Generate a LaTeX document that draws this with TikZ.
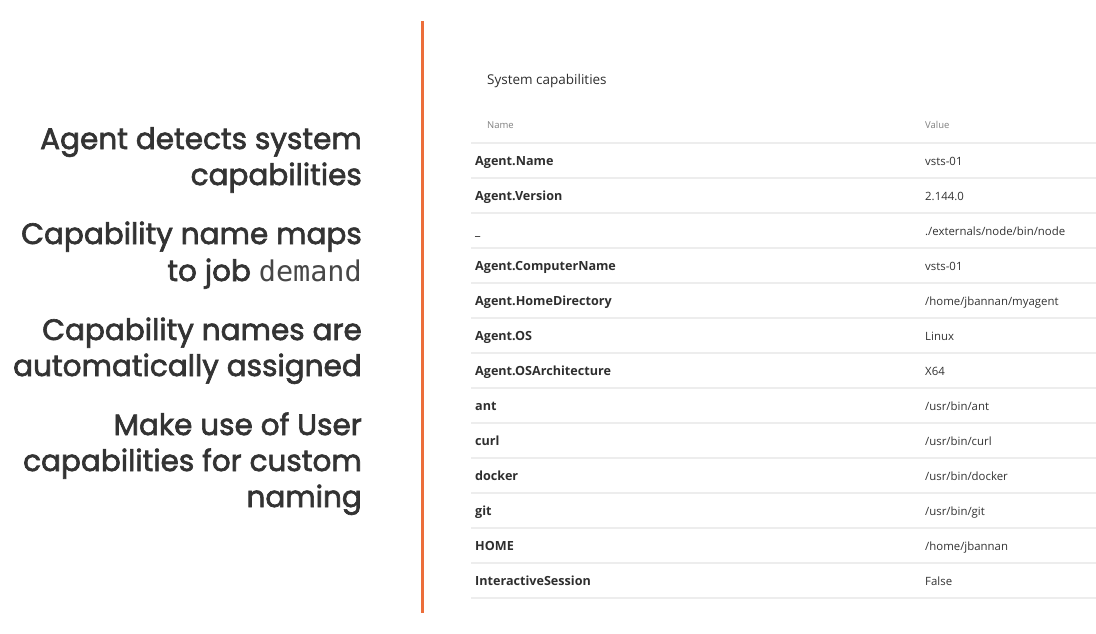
\documentclass[tikz,border=0pt]{standalone}
\usepackage{fontspec}
\newfontfamily\headfont[FakeBold=2.2]{Poppins}
\newfontfamily\monofont{DejaVu Sans Mono}
\newfontfamily\tabfont{Open Sans}
\begin{document}
\begin{tikzpicture}[x=1pt,y=-1pt,
  bullet/.style={anchor=base east,inner sep=0pt,text=black!80,font=\headfont\fontsize{29.5}{36}\selectfont},
  namecell/.style={anchor=base west,inner sep=0pt,text=black!82,font=\tabfont\bfseries\fontsize{12.6}{14}\selectfont},
  valcell/.style={anchor=base west,inner sep=0pt,text=black!80,font=\tabfont\fontsize{11.4}{14}\selectfont},
  headcell/.style={anchor=base west,inner sep=0pt,text=black!50,font=\tabfont\fontsize{9.5}{12}\selectfont},
  rowline/.style={draw=black!7,line width=1.2pt}]
\useasboundingbox[fill=white] (0,0) rectangle (1096,633);
% left bullets
\node[bullet] (l1) at (362,149) {Agent detects system};
\node[bullet] (l2) at (362,185) {capabilities};
\node[bullet] (l3) at (362,244) {Capability name maps};
\node[bullet] (l4) at (362,281) {to job {\monofont\fontsize{28.5}{36}\selectfont\color{black!72}demand}};
\node[bullet] (l5) at (362,340) {Capability names are};
\node[bullet] (l6) at (362,376) {automatically assigned};
\node[bullet] (l7) at (362,435) {Make use of User};
\node[bullet] (l8) at (362,471) {capabilities for custom};
\node[bullet] (l9) at (362,507) {naming};
% orange divider
\coordinate (dtop) at (422,21);
\coordinate (dbot) at (422,613);
\draw[line width=3pt,draw={rgb,255:red,236;green,110;blue,58}] (dtop) -- (dbot);
% table title and header
\node[anchor=base west,inner sep=0pt,text=black!82,font=\tabfont\fontsize{13.5}{16}\selectfont] (title) at (487,84) {System capabilities};
\node[headcell] (hname) at (487,128) {Name};
\node[headcell] (hval) at (925,128) {Value};
% row lines
\foreach \i in {0,...,13}{
  \coordinate (a\i) at (471,143+35*\i);
  \coordinate (b\i) at (1096,143+35*\i);
  \draw[rowline] (a\i) -- (b\i);
}
% rows
\foreach [count=\i from 0] \n in {
  Agent.Name, Agent.Version, \_, Agent.ComputerName, Agent.HomeDirectory, Agent.OS,
  Agent.OSArchitecture, ant, curl, docker, git, HOME, InteractiveSession}{
  \node[namecell] (n\i) at (475,165+35*\i) {\n};
}
\foreach [count=\i from 0] \v in {
  vsts-01, 2.144.0, ./externals/node/bin/node, vsts-01, /home/jbannan/myagent, Linux, X64,
  /usr/bin/ant, /usr/bin/curl, /usr/bin/docker, /usr/bin/git, /home/jbannan, False}{
  \node[valcell] (v\i) at (925,165+35*\i) {\v};
}
\end{tikzpicture}
\end{document}
